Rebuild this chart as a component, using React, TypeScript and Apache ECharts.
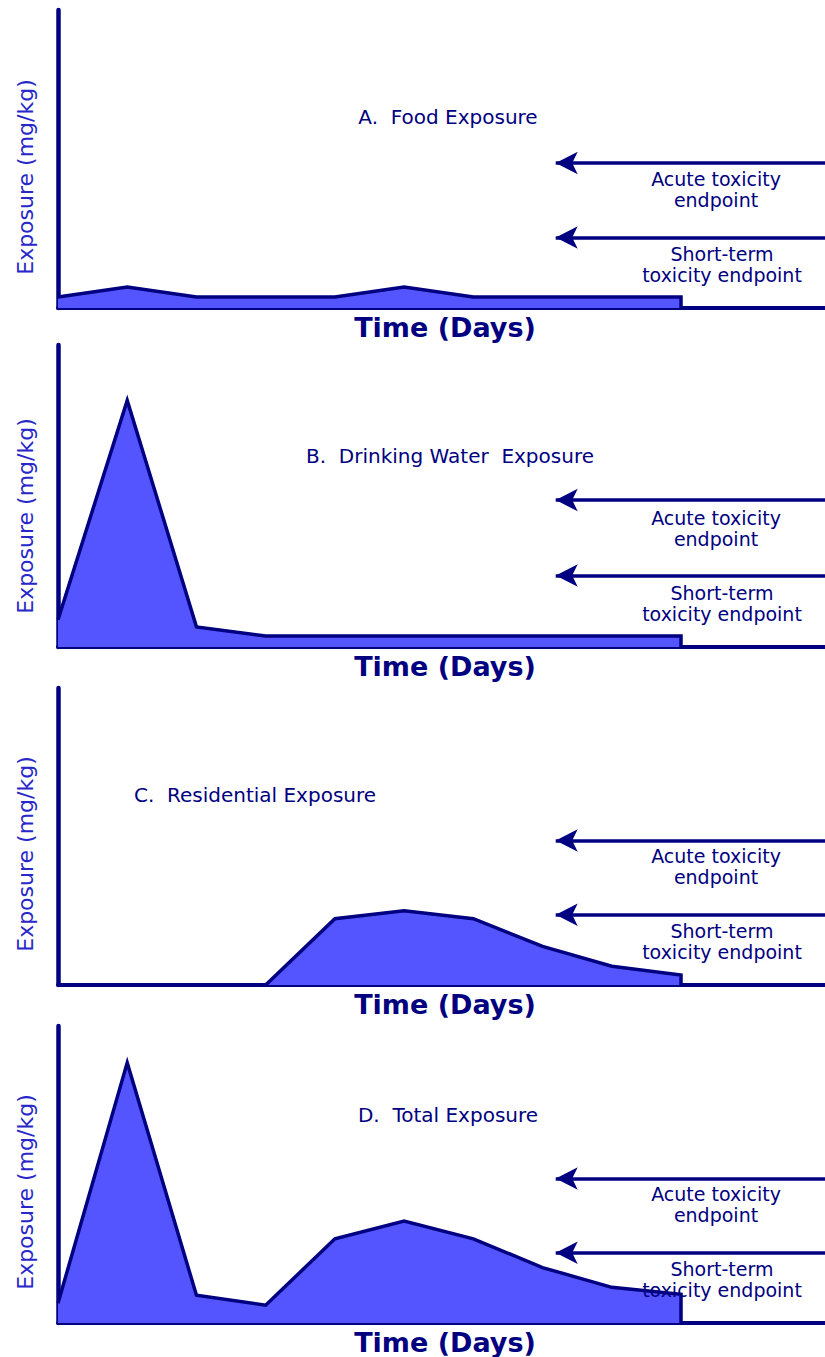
import React, { useEffect, useRef } from "react";
import * as echarts from "echarts";

// ---- Data ----
const times = [0, 1, 2, 3, 4, 5, 6, 7, 8, 9];
const foodExposure = [11, 21, 11, 11, 11, 21, 11, 11, 11, 11];
const drinkingWaterExposure = [27, 245, 20, 11, 11, 11, 11, 11, 11, 11];
const residentialExposure = [null, null, null, 0, 67, 75, 67, 39, 19, 10];
const totalExposure = [20, 263, 28, 18, 85, 103, 85, 56, 36, 29];
const acuteEndpoint = 146;
const shortTermEndpoint = 71;
const endpointStartTime = 7.19;
const timeMax = 11.08;
const exposureMax = 300;

const panelTitles = [
  "A.  Food Exposure",
  "B.  Drinking Water  Exposure",
  "C.  Residential Exposure",
  "D.  Total Exposure",
];
const panelSeries = [foodExposure, drinkingWaterExposure, residentialExposure, totalExposure];
const xAxisTitle = "Time (Days)";
const yAxisTitle = "Exposure (mg/kg)";
const acuteLabel = "Acute toxicity\nendpoint";
const shortTermLabel = "Short-term\ntoxicity endpoint";

// ---- Layout ----
const W = 825;
const H = 1357;
const gridLeft = 58;
const gridTops = [10, 345, 688, 1026];
const gridHeights = [298, 302, 297, 297];
const titleCenters: [number, number][] = [
  [448, 191],
  [450, 191],
  [255, 190],
  [448, 208],
];

const NAVY = "#000080";
const FILL = "#5555ff";
const FONT = "DejaVu Sans";

function buildOption() {
  const grids: any[] = [];
  const xAxes: any[] = [];
  const yAxes: any[] = [];
  const series: any[] = [];
  const graphics: any[] = [];

  panelSeries.forEach((vals, i) => {
    const top = gridTops[i];
    const h = gridHeights[i];
    const bottom = top + h;
    grids.push({ left: gridLeft, top, width: W - gridLeft, height: h, containLabel: false });
    xAxes.push({
      type: "value",
      gridIndex: i,
      min: 0,
      max: timeMax,
      axisLine: { show: true, lineStyle: { color: NAVY, width: 4 } },
      axisTick: { show: false },
      axisLabel: { show: false },
      splitLine: { show: false },
    });
    yAxes.push({
      type: "value",
      gridIndex: i,
      min: 0,
      max: exposureMax,
      axisLine: { show: true, onZero: false, lineStyle: { color: NAVY, width: 4.5 } },
      axisTick: { show: false },
      axisLabel: { show: false },
      splitLine: { show: false },
    });

    const data: any[] = times.map((t, k) => [t, vals[k]]);
    const lastT = times[times.length - 1];
    data.push([lastT, 0]);

    series.push({
      type: "line",
      xAxisIndex: i,
      yAxisIndex: i,
      data,
      showSymbol: false,
      symbol: "none",
      connectNulls: false,
      lineStyle: { color: NAVY, width: 3.5, join: "miter" },
      areaStyle: { color: FILL, opacity: 1 },
      z: 2,
      markLine: {
        silent: true,
        animation: false,
        symbol: ["arrow", "none"],
        symbolSize: [17, 22],
        label: { show: false },
        lineStyle: { color: NAVY, width: 3.5, type: "solid" },
        emphasis: { disabled: true },
        data: [
          [
            { coord: [endpointStartTime, acuteEndpoint] },
            { coord: [timeMax, acuteEndpoint] },
          ],
          [
            { coord: [endpointStartTime, shortTermEndpoint] },
            { coord: [timeMax, shortTermEndpoint] },
          ],
        ],
      },
    });

    // texts
    graphics.push({
      type: "text",
      x: titleCenters[i][0],
      y: bottom - titleCenters[i][1],
      z: 100,
      style: {
        text: panelTitles[i],
        fill: NAVY,
        fontFamily: FONT,
        fontSize: 20,
        align: "center",
        verticalAlign: "middle",
      },
    });
    graphics.push({
      type: "text",
      x: 716,
      y: bottom - 119,
      z: 100,
      style: {
        text: acuteLabel,
        fill: NAVY,
        fontFamily: FONT,
        fontSize: 19,
        lineHeight: 21,
        align: "center",
        verticalAlign: "middle",
      },
    });
    graphics.push({
      type: "text",
      x: 722,
      y: bottom - 44,
      z: 100,
      style: {
        text: shortTermLabel,
        fill: NAVY,
        fontFamily: FONT,
        fontSize: 19,
        lineHeight: 21,
        align: "center",
        verticalAlign: "middle",
      },
    });
    graphics.push({
      type: "text",
      x: 445,
      y: bottom + 19,
      z: 100,
      style: {
        text: xAxisTitle,
        fill: NAVY,
        fontFamily: FONT,
        fontSize: 27,
        fontWeight: "bold",
        align: "center",
        verticalAlign: "middle",
      },
    });
    graphics.push({
      type: "text",
      x: 25,
      y: bottom - 131,
      rotation: Math.PI / 2,
      z: 100,
      style: {
        text: yAxisTitle,
        fill: "#2828c8",
        fontFamily: FONT,
        fontSize: 22,
        align: "center",
        verticalAlign: "middle",
      },
    });
  });

  return {
    animation: false,
    backgroundColor: "#ffffff",
    grid: grids,
    xAxis: xAxes,
    yAxis: yAxes,
    series,
    graphic: graphics,
  };
}

export default function App() {
  const ref = useRef<HTMLDivElement>(null);
  useEffect(() => {
    document.body.style.margin = "0";
    if (!ref.current) return;
    const chart = echarts.init(ref.current, undefined, { renderer: "svg" });
    chart.setOption(buildOption() as any);
    return () => {
      chart.dispose();
    };
  }, []);
  return <div ref={ref} style={{ width: W, height: H }} />;
}
